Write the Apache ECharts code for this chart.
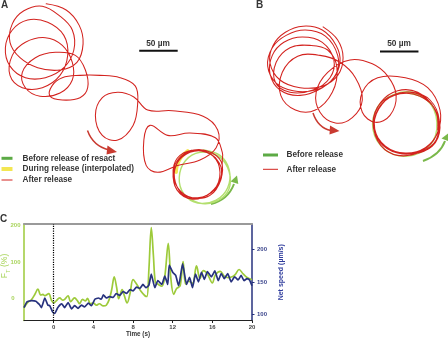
<!DOCTYPE html>
<html>
<head>
<meta charset="utf-8">
<script src="https://cdn.jsdelivr.net/npm/echarts@6/dist/echarts.min.js"></script>
<style>
  html, body { margin: 0; padding: 0; background: #fff; }
  #chart { width: 448px; height: 340px; }
</style>
</head>
<body>
<div id="chart"></div>
<script>
// ---- Swimming tracks, µm (y grows downward, as in the microscope frame) ----
// Panel A: sperm in a resact gradient
const trackAAfter = [
  [60,5],[86,13],[103,33],[108,57],[100,81],[78,91],[49,88],[26,75],[13,55],[16,31],[31,14],[55,8],
  [78,21],[94,39],[96,65],[83,88],[59,101],[33,101],[13,86],[7,62],[16,39],[36,26],[62,29],
  [83,46],[88,72],[78,98],[55,114],[29,114],[13,98],[16,72],[33,55],[59,49],
  [81,59],[94,81],[94,104],[78,121],[52,125],[33,114],[29,94],[46,75],[72,68],[98,72],
  [111,91],[114,114],[104,127],[81,130],[65,125],[68,111],[81,101],
  [104,98],[130,98],[156,101],[176,112],
  [179,134],[173,163],[153,182],[133,176],[124,150],[133,127],[153,120],[174,126],
  [192,143],[224,144],[264,151],[283,169],[281,192],[260,208],[231,215],[205,224],[190,215],[187,182],[195,163],
  [218,176],[247,173],[280,179],[289,198],
  [289,208],[287,234],[273,254],[250,257],[231,244],[225,221],[234,202],[256,195],[277,203],
  [286,224],[278,247],[257,257],[234,251],[225,230],[231,208],[252,195],[276,199],[289,215],
  [283,241],[264,256],[241,255],[228,237],[229,215],[244,198],[268,198],[285,212],[287,231],
  [273,251],[250,259],[230,247],[226,224],[237,204],[259,196],[280,205],[286,224]
];
const trackADuring = [[244,196],[235,205],[230,216],[229,224]];
const trackABefore = [
  [264,195],[286,202],[298,221],[296,244],[281,260],[257,264],[239,252],[233,231],
  [241,209],[260,198],[282,202],[296,218],[299,241],[289,257],[267,265],[247,259]
];

// Panel B: control track
const trackBAfter = [
  [108,35],[127,52],[134,75],[127,98],[107,112],[78,114],[52,104],[39,82],[43,59],[59,42],[82,34],
  [107,39],[125,59],[130,81],[120,104],[98,117],[69,118],[47,108],[36,86],[42,62],[60,46],[85,39],
  [111,47],[127,72],[125,96],[107,114],[78,124],[52,117],[39,96],[42,72],[57,55],[81,48],
  [107,55],[122,78],[117,101],[95,117],[65,120],[46,107],[47,81],[65,62],[91,59],
  [114,65],[126,88],[120,120],[98,143],[72,143],[53,124],[55,94],[75,73],[104,72],[130,81],
  [150,101],[159,130],[146,153],[124,160],[104,146],[99,120],[114,94],[143,78],[172,83],[192,99],
  [203,124],[195,150],[176,159],[159,146],[159,120],[179,101],
  [215,101],[244,114],[260,143],[257,172],[241,192],[215,199],[189,190],[174,166],[179,139],[198,124],[224,120],
  [247,130],[259,156],[252,182],[231,198],[205,199],[182,185],[173,159],[183,133],[205,118],[231,120],
  [252,140],[260,166],[250,190],[224,200],[195,195],[177,174],[177,147],[195,126],[221,120],[244,130],
  [257,153],[255,182],[234,198],[205,202],[183,189],[174,163],[185,135],[208,122],[234,125],[254,143],[257,169]
];
const trackBBefore = [
  [213,120],[243,130],[256,159],[247,189],[218,203],[189,195],[173,169],[179,139],
  [202,122],[228,121],[250,137],[257,163]
];

const SCALE_UM = 50;

// ---- Panel C: fluorescence F_T (%) and net speed (µm/s) vs time (s) ----
const fTime = [-3.0,-2.6,-2.26,-1.9,-1.6,-1.3,-1.1,-0.9,-0.5,-0.25,0.0,0.25,0.6,0.9,1.1,1.45,1.7,2.1,2.4,2.6,
  2.9,3.2,3.4,3.7,4.0,4.3,4.6,5.0,5.3,5.6,5.85,6.1,6.35,6.55,6.9,7.1,7.4,7.7,8.0,8.4,
  8.8,9.2,9.4,9.6,9.84,10.05,10.25,10.5,10.9,11.2,11.55,11.8,12.1,12.4,12.75,13.05,13.3,13.6,14.0,14.4,
  14.75,15.1,15.5,16.0,16.3,16.8,17.2,17.6,18.0,18.3,18.7,19.1,19.5,20.0];
const fValue = [-25,-10,-3,12,26,10,12,8,14,-3,-12,-6,2,-4,-2,8,-8,2,-6,-14,
  -2,-6,1,-14,-12,-18,-14,-20,-18,-2,25,60,30,0,25,10,-12,15,52,38,
  20,8,6,80,195,120,45,40,34,60,152,60,12,28,35,102,40,48,42,90,
  55,77,68,43,65,75,62,58,60,66,80,68,58,52];

const speedTime = [-3.0,-2.7,-2.2,-1.8,-1.6,-1.45,-1.25,-0.9,-0.6,-0.4,-0.1,0.1,0.4,0.8,1.1,1.45,1.8,2.1,2.45,2.8,
  3.1,3.5,3.8,4.15,4.5,4.8,5.0,5.3,5.6,6.0,6.3,6.65,7.0,7.35,7.7,8.0,8.35,8.7,9.0,9.3,
  9.6,9.84,10.2,10.5,10.9,11.2,11.5,11.65,12.0,12.3,12.6,13.0,13.4,13.7,14.0,14.3,14.6,14.9,15.2,15.5,
  15.9,16.25,16.6,16.9,17.2,17.55,17.9,18.25,18.6,18.9,19.2,19.5,19.75,20.0];
const speedValue = [110,119,121,120,117,115,110,125,114,113,103,101,110,116,110,118,108,113,109,114,
  111,117,113,123,125,123,130,125,127,126,132,129,135,132,138,136,142,140,146,141,
  145,162,141,152,146,159,146,176,165,160,144,178,146,157,141,162,150,165,154,166,
  158,167,152,163,155,163,150,158,153,160,152,155,153,144];

const timeTicks = [0, 4, 8, 12, 16, 20];
const fTicks = [0, 100, 200];
const speedTicks = [100, 150, 200];

// ---- styling ----
const FONT = '"Liberation Sans", Arial, sans-serif';
const RED = '#d3231f';
const LIGHT_GREEN = '#b3df6e';
const LEG_GREEN = '#5caa45';
const YELLOW = '#f3e652';
const F_GREEN = '#9dca3a';
const F_LABEL = '#a9d45c';
const NAVY = '#27327e';
const TEXT = '#353535';

const zip = (a, b) => a.map((v, i) => [v, b[i]]);
const scaleBarA = { x: 181, y: 66 };
const scaleBarB = { x: 182, y: 67 };

// A track is drawn as one smooth curve through all of its points (the
// built-in line smoothing flattens tight loops, so a custom series is used).
const trackSeries = (name, data, grid, color, width, z) => ({
  name, type: 'custom', data, xAxisIndex: grid, yAxisIndex: grid, z, silent: true,
  renderItem(params, api) {
    if (params.dataIndexInside !== 0) return null;
    const pts = [];
    for (let i = 0; i < params.dataInsideLength; i++) {
      pts.push(api.coord([api.value(0, i), api.value(1, i)]));
    }
    return {
      type: 'polyline',
      shape: { points: pts, smooth: 0.38 },
      style: { stroke: color, lineWidth: width, fill: null, lineJoin: 'round', lineCap: 'round' }
    };
  }
});

const txt = (text, x, y, size, opts = {}) => ({
  type: 'text', x, y, silent: true,
  style: Object.assign({
    text, font: `bold ${size}px ${FONT}`, fill: TEXT,
    textAlign: 'left', textVerticalAlign: 'middle', align: 'left', verticalAlign: 'middle'
  }, opts)
});
const seg = (x1, y1, x2, y2, stroke, lineWidth) => ({
  type: 'line', silent: true, shape: { x1, y1, x2, y2 }, style: { stroke, lineWidth }
});
const arrow = (p0, cp, p1, head, color, width) => ([
  { type: 'bezierCurve', silent: true,
    shape: { x1: p0[0], y1: p0[1], cpx1: cp[0], cpy1: cp[1], x2: p1[0], y2: p1[1] },
    style: { stroke: color, lineWidth: width, fill: null } },
  { type: 'polygon', silent: true, shape: { points: head }, style: { fill: color } }
]);

const chart = echarts.init(document.getElementById('chart'), null, { renderer: 'canvas' });

chart.setOption({
  animation: false,
  backgroundColor: '#fff',
  grid: [
    { left: 0, top: 0, width: 240, height: 215, outerBoundsMode: 'none', containLabel: false },
    { left: 240, top: 0, width: 208, height: 215, outerBoundsMode: 'none', containLabel: false },
    { left: 24, top: 224, right: 196, bottom: 19.5, outerBoundsMode: 'none', containLabel: false }
  ],
  xAxis: [
    { gridIndex: 0, type: 'value', min: 0, max: 312, show: false },
    { gridIndex: 1, type: 'value', min: 0, max: 270.4, show: false },
    {
      gridIndex: 2, type: 'value', min: -3, max: 20, position: 'bottom',
      axisLine: { onZero: false, lineStyle: { color: '#222', width: 1.2 } },
      axisTick: { show: true, customValues: timeTicks, length: 2.5, lineStyle: { color: '#222' } },
      axisLabel: { customValues: timeTicks, fontSize: 6, fontWeight: 'bold', color: '#444', margin: 4, fontFamily: FONT },
      splitLine: { show: false },
      name: 'Time (s)', nameLocation: 'middle', nameGap: 11,
      nameTextStyle: { fontSize: 6.3, fontWeight: 'bold', color: TEXT, fontFamily: FONT }
    },
    {
      gridIndex: 2, type: 'value', min: -3, max: 20, position: 'top',
      axisLine: { onZero: false, lineStyle: { color: '#9a9a9a', width: 2 } },
      axisTick: { show: false }, axisLabel: { show: false }, splitLine: { show: false }
    }
  ],
  yAxis: [
    { gridIndex: 0, type: 'value', min: 0, max: 279.5, inverse: true, show: false },
    { gridIndex: 1, type: 'value', min: 0, max: 279.5, inverse: true, show: false },
    {
      gridIndex: 2, type: 'value', min: -60, max: 205, position: 'left',
      axisLine: { show: true, onZero: false, lineStyle: { color: F_GREEN, width: 1.5 } },
      axisTick: { show: false },
      axisLabel: {
        customValues: fTicks, fontSize: 6, fontWeight: 'bold', color: F_LABEL, margin: 3.5, fontFamily: FONT,
        formatter: v => (v === 0 ? '{z|0}' : String(v)),
        rich: { z: { fontSize: 6, fontWeight: 'bold', color: F_LABEL, fontFamily: FONT, padding: [0, 6, 0, 0] } }
      },
      splitLine: { show: false }
    },
    {
      gridIndex: 2, type: 'value', min: 90, max: 240, position: 'right',
      axisLine: { show: true, onZero: false, lineStyle: { color: NAVY, width: 1.5 } },
      axisTick: { show: true, customValues: speedTicks, length: 2.5, lineStyle: { color: NAVY } },
      axisLabel: { customValues: speedTicks, fontSize: 6, fontWeight: 'bold', color: '#3b458c', margin: 5, fontFamily: FONT },
      splitLine: { show: false },
      name: 'Net speed (µm/s)', nameLocation: 'middle', nameRotate: 90, nameGap: 24,
      nameTextStyle: { fontSize: 7, fontWeight: 'bold', color: '#2f3c9c', fontFamily: FONT }
    }
  ],
  series: [
    trackSeries('A before', trackABefore, 0, LIGHT_GREEN, 1.4, 2),
    trackSeries('A during', trackADuring, 0, YELLOW, 3.5, 3),
    trackSeries('A after', trackAAfter, 0, RED, 1.05, 4),
    {
      name: 'A scale', type: 'line', xAxisIndex: 0, yAxisIndex: 0, symbol: 'none', silent: true,
      data: [[scaleBarA.x, scaleBarA.y], [scaleBarA.x + SCALE_UM, scaleBarA.y]],
      lineStyle: { color: '#111', width: 2 }
    },
    trackSeries('B before', trackBBefore, 1, LIGHT_GREEN, 1.4, 2),
    trackSeries('B after', trackBAfter, 1, RED, 1.05, 4),
    {
      name: 'B scale', type: 'line', xAxisIndex: 1, yAxisIndex: 1, symbol: 'none', silent: true,
      data: [[scaleBarB.x, scaleBarB.y], [scaleBarB.x + SCALE_UM, scaleBarB.y]],
      lineStyle: { color: '#111', width: 2 }
    },
    {
      name: 'F_T', type: 'line', xAxisIndex: 2, yAxisIndex: 2, data: zip(fTime, fValue),
      showSymbol: false, symbol: 'none', smooth: 0.35, z: 3,
      lineStyle: { color: F_GREEN, width: 1.7 },
      markLine: {
        silent: true, symbol: 'none', label: { show: false },
        lineStyle: { type: 'dotted', color: '#000', width: 1.2 },
        data: [{ xAxis: 0 }]
      }
    },
    {
      name: 'Net speed', type: 'line', xAxisIndex: 2, yAxisIndex: 3, data: zip(speedTime, speedValue),
      showSymbol: false, symbol: 'none', smooth: 0.15, z: 4,
      lineStyle: { color: NAVY, width: 1.7 }
    }
  ],
  graphic: [
    // panel letters
    txt('A', 1, 5, 10),
    txt('B', 256, 5, 10),
    txt('C', 0, 219, 10),
    // left axis title of panel C, F with subscript T, read bottom to top
    {
      type: 'text', x: 5, y: 266, rotation: Math.PI / 2, silent: true,
      style: {
        text: '{a|F}{s|T}{a| (%)}',
        textAlign: 'center', textVerticalAlign: 'middle', align: 'center', verticalAlign: 'middle',
        rich: {
          a: { fontSize: 8.5, fill: F_LABEL, fontFamily: FONT, lineHeight: 12, verticalAlign: 'middle' },
          s: { fontSize: 6, fill: F_LABEL, fontFamily: FONT, lineHeight: 8, verticalAlign: 'bottom' }
        }
      }
    },
    // scale bar captions
    txt(SCALE_UM + ' µm', 158, 43.5, 8.3, { textAlign: 'center', align: 'center' }),
    txt(SCALE_UM + ' µm', 399, 44, 8.3, { textAlign: 'center', align: 'center' }),
    // legend A
    seg(1.5, 158.3, 12.5, 158.3, LEG_GREEN, 3),
    seg(1.5, 169, 12.5, 169, YELLOW, 4),
    seg(1.5, 180, 12.5, 180, RED, 1),
    txt('Before release of resact', 22.5, 158.3, 8.2),
    txt('During release (interpolated)', 22.5, 169, 8.2),
    txt('After release', 22.5, 180, 8.2),
    // legend B
    seg(263, 155, 278, 155, LEG_GREEN, 3),
    seg(263, 169.3, 278, 169.3, RED, 1),
    txt('Before release', 286.5, 155, 8.2),
    txt('After release', 286.5, 169.3, 8.2),
    // direction arrows
    ...arrow([87.5, 130.5], [93, 146], [109, 150], [[117, 152], [107.5, 145.5], [106.5, 154.5]], '#c93a30', 1.5),
    ...arrow([211, 204], [228, 200], [234, 184], [[237, 175.5], [238.3, 184], [230.5, 181.5]], '#7ab84a', 2),
    ...arrow([313, 113], [318, 128], [331, 130.5], [[339.5, 131], [330, 125.5], [329.5, 134.5]], '#c93a30', 1.5),
    ...arrow([423, 161], [440, 155], [445, 141], [[448.5, 133], [449, 141.5], [441.5, 138.5]], '#7ab84a', 2)
  ]
});
</script>
</body>
</html>
